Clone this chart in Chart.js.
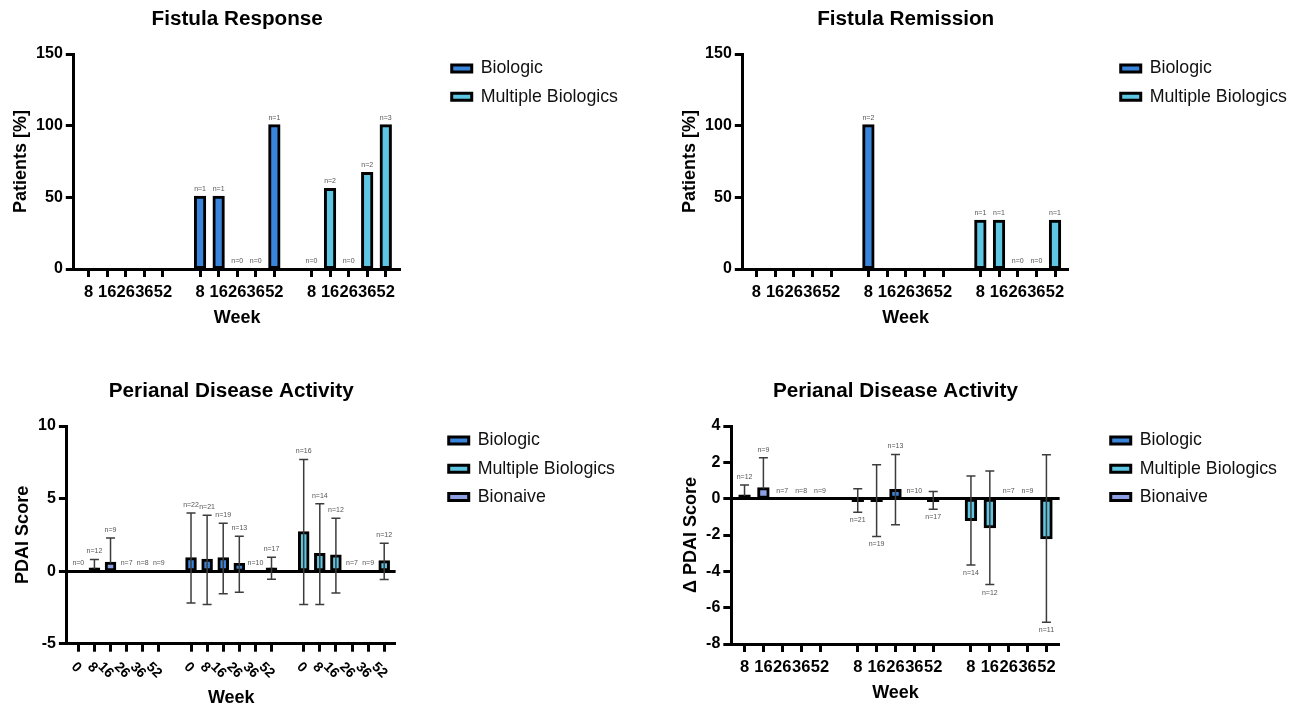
<!DOCTYPE html>
<html><head><meta charset="utf-8">
<script src="https://cdn.jsdelivr.net/npm/chart.js@4.4.1/dist/chart.umd.min.js"></script>
<style>
html,body{margin:0;padding:0;background:#fff;width:1309px;height:707px;overflow:hidden;position:relative;}
canvas{position:absolute;}
</style></head><body>
<canvas id="c1" width="628" height="340" style="left:0px;top:0px"></canvas>
<canvas id="c2" width="628" height="340" style="left:669px;top:0px"></canvas>
<canvas id="c3" width="623" height="337" style="left:2px;top:372px"></canvas>
<canvas id="c4" width="617" height="335" style="left:670px;top:372px"></canvas>
<script>
// ---------- data ----------
const weeks5 = ['8','16','26','36','52'];
const weeks6 = ['0','8','16','26','36','52'];
const labels5 = [...weeks5, '', ...weeks5, '', ...weeks5];
const labels6 = [...weeks6, '', ...weeks6, '', ...weeks6];

// Fistula Response (%), groups: [Bionaive, Biologic, Multiple Biologics]
const respBiologic = [50, 50, 0, 0, 100];
const respBiologicN = ['n=1','n=1','n=0','n=0','n=1'];
const respMultiple = [0, 55.5, 0, 66.7, 100];
const respMultipleN = ['n=0','n=2','n=0','n=2','n=3'];

// Fistula Remission (%)
const remBiologic = [100, null, null, null, null];
const remBiologicN = ['n=2', null, null, null, null];
const remMultiple = [33.3, 33.3, 0, 0, 33.3];
const remMultipleN = ['n=1','n=1','n=0','n=0','n=1'];

// PDAI score (mean, SD range)
const pdaiBionaive = [0, 0.15, 0.55, 0, 0, 0];
const pdaiBionaiveHi = [null, 0.8, 2.28, null, null, null];
const pdaiBionaiveLo = [null, null, null, null, null, null];
const pdaiBionaiveN = ['n=0','n=12','n=9','n=7','n=8','n=9'];
const pdaiBiologic = [0.85, 0.75, 0.85, 0.45, 0, 0.15];
const pdaiBiologicHi = [4.0, 3.85, 3.3, 2.4, null, 0.95];
const pdaiBiologicLo = [-2.2, -2.3, -1.55, -1.45, null, -0.55];
const pdaiBiologicN = ['n=22','n=21','n=19','n=13','n=10','n=17'];
const pdaiMultiple = [2.65, 1.15, 1.05, 0, 0, 0.65];
const pdaiMultipleHi = [7.7, 4.65, 3.65, null, null, 1.92];
const pdaiMultipleLo = [-2.3, -2.3, -1.5, null, null, -0.57];
const pdaiMultipleN = ['n=16','n=14','n=12','n=7','n=9','n=12'];

// Delta PDAI score
const dBionaive = [0.15, 0.55, 0, 0, 0];
const dBionaiveHi = [0.75, 2.25, null, null, null];
const dBionaiveLo = [null, null, null, null, null];
const dBionaiveN = ['n=12','n=9','n=7','n=8','n=9'];
const dBiologic = [-0.1, -0.1, 0.45, 0, -0.1];
const dBiologicHi = [0.55, 1.87, 2.43, null, 0.4];
const dBiologicLo = [-0.75, -2.08, -1.43, null, -0.58];
const dBiologicN = ['n=21','n=19','n=13','n=10','n=17'];
const dMultiple = [-1.15, -1.55, 0, 0, -2.15];
const dMultipleHi = [1.25, 1.52, null, null, 2.42];
const dMultipleLo = [-3.65, -4.73, null, null, -6.8];
const dMultipleN = ['n=14','n=12','n=7','n=9','n=11'];

// ---------- helpers ----------
const FONT = "Arial, 'Liberation Sans', sans-serif";
Chart.defaults.font.family = FONT;
Chart.defaults.color = '#000';
const COL = {biologic: '#3a85dc', multiple: '#5ec6e2', bionaive: '#8c9fe2'};

function slots(groupSize, gIndex, values) {
  const out = new Array(groupSize * 3 + 2).fill(null);
  if (values) values.forEach((v, i) => { out[gIndex * (groupSize + 1) + i] = v; });
  return out;
}

const annot = {
  id: 'annot',
  afterDatasetsDraw(chart) {
    const ctx = chart.ctx, ys = chart.scales.y;
    chart.data.datasets.forEach((ds, di) => {
      const meta = chart.getDatasetMeta(di);
      meta.data.forEach((bar, i) => {
        const v = ds.data[i];
        if (v === null || v === undefined) return;
        const hi = ds.errHi ? ds.errHi[i] : null;
        const lo = ds.errLo ? ds.errLo[i] : null;
        const x = bar.x;
        ctx.save();
        if (hi != null || lo != null) {
          const top = ys.getPixelForValue(hi != null ? hi : v);
          const bot = ys.getPixelForValue(lo != null ? lo : v);
          ctx.strokeStyle = '#3c3c3c'; ctx.lineWidth = 1.5;
          ctx.beginPath();
          ctx.moveTo(x, top); ctx.lineTo(x, bot);
          if (hi != null) { ctx.moveTo(x - 4.5, top); ctx.lineTo(x + 4.5, top); }
          if (lo != null) { ctx.moveTo(x - 4.5, bot); ctx.lineTo(x + 4.5, bot); }
          ctx.stroke();
        }
        const n = ds.nLabels ? ds.nLabels[i] : null;
        if (n) {
          ctx.fillStyle = '#555'; ctx.font = '7px ' + FONT;
          ctx.textAlign = 'center'; ctx.textBaseline = 'middle';
          if (v < 0) {
            const b = ys.getPixelForValue(lo != null ? lo : v);
            ctx.fillText(n, x, b + 8);
          } else {
            const t = ys.getPixelForValue(hi != null ? hi : v);
            ctx.fillText(n, x, t - 8);
          }
        }
        ctx.restore();
      });
    });
  }
};

// x tick labels turned 45 degrees clockwise (drawn at the category scale's tick pixels)
function rotLabelsPlugin(on) {
  return {
    id: 'rotLabels',
    afterDraw(chart) {
      if (!on) return;
      const s = chart.scales.x, ctx = chart.ctx, labs = s.getLabels();
      ctx.save();
      ctx.font = 'bold 14px ' + FONT; ctx.fillStyle = '#000';
      ctx.textAlign = 'center'; ctx.textBaseline = 'middle';
      s.ticks.forEach((t, i) => {
        const L = labs[t.value];
        if (!L) return;
        const w = ctx.measureText(L).width, h = 10;
        const box = 0.7071 * (w + h);
        const cx = s.getPixelForTick(i) + 4.3 - box / 2;
        const cy = s.top + 17.5 + box / 2;
        ctx.save();
        ctx.translate(cx, cy); ctx.rotate(Math.PI / 4);
        ctx.fillText(L, 0, 0);
        ctx.restore();
      });
      ctx.restore();
    }
  };
}

function ds(label, color, data, n, hi, lo, bp) {
  return {label, data, nLabels: n, errHi: hi, errLo: lo, baseColor: color,
    backgroundColor: c => (c.raw && Math.abs(c.raw) < 0.2 ? '#000' : color),
    borderColor: '#000', borderWidth: 3, borderSkipped: false,
    inflateAmount: c => (c.raw ? 1.5 : 0),
    skipNull: true, categoryPercentage: 1, barPercentage: bp, yAxisID: 'y', xAxisID: 'x'};
}

function legendLabels(chart) {
  return Chart.defaults.plugins.legend.labels.generateLabels(chart).map((l, i) =>
    Object.assign(l, {fillStyle: chart.data.datasets[i].baseColor, strokeStyle: '#000', lineWidth: 3}));
}

function makeChart(id, c) {
  const labels = c.labels;
  return new Chart(document.getElementById(id), {
    type: 'bar',
    data: {labels, datasets: c.datasets},
    plugins: [annot, rotLabelsPlugin(!!c.rot)],
    options: {
      responsive: false, animation: false,
      layout: {padding: {left: 2, right: 0, top: 0, bottom: c.lb}},
      plugins: {
        tooltip: {enabled: false},
        title: {display: true, text: c.title, fullSize: false, color: '#000',
          font: {size: 20.7, weight: 'bold'}, padding: {top: 7, bottom: 22.2}},
        legend: {position: 'right', align: 'start', fullSize: true, maxWidth: 260,
          title: {display: true, text: '', font: {size: 10}, padding: {top: 37, bottom: 0}},
          labels: {font: {size: 17.8}, color: '#111', boxWidth: 20, boxHeight: 7, padding: 10.5,
            generateLabels: legendLabels}}
      },
      scales: {
        x: {
          type: 'category', offset: false,
          grid: {display: true, offset: false, drawOnChartArea: false, drawTicks: true,
            tickLength: 8, tickWidth: 3,
            tickColor: t => (labels[t.index] === '' ? 'rgba(0,0,0,0)' : '#000')},
          border: {display: true, color: '#000', width: 3},
          ticks: {autoSkip: false, minRotation: c.rot, maxRotation: c.rot,
            color: c.rot ? 'rgba(0,0,0,0)' : '#000',
            padding: 6, font: {size: c.rot ? 14 : 16.5, weight: 'bold'}},
          title: {display: true, text: 'Week', color: '#000', font: {size: 18, weight: 'bold'},
            padding: {top: c.rot ? 0.2 : -2, bottom: 0}},
          afterBuildTicks: s => { s._startValue -= c.pad; s._valueRange += 2 * c.pad; }
        },
        y: {
          min: c.yMin, max: c.yMax,
          ticks: {stepSize: c.yStep, color: '#000', padding: 3, font: {size: 16, weight: 'bold'}},
          grid: {drawOnChartArea: true, lineWidth: 3, tickWidth: 3, tickLength: 8, tickColor: '#000',
            color: t => (t.tick && t.tick.value === 0 ? '#000' : 'rgba(0,0,0,0)')},
          border: {display: true, color: '#000', width: 3},
          title: {display: true, text: c.yTitle, color: '#000', font: {size: 18, weight: 'bold'},
            padding: {top: 8, bottom: 1.5}}
        },
        gap: {type: 'linear', position: 'right', display: true,
          grid: {display: false}, border: {display: false}, ticks: {display: false},
          afterFit: s => { s.width = c.gap; }}
      }
    }
  });
}

makeChart('c1', {
  labels: labels5, title: 'Fistula Response', yTitle: 'Patients [%]',
  yMin: 0, yMax: 150, yStep: 50, rot: 0, pad: 0.8, gap: 40.6, lb: 11.6,
  datasets: [
    ds('Biologic', COL.biologic, slots(5, 1, respBiologic), slots(5, 1, respBiologicN), null, null, 0.5),
    ds('Multiple Biologics', COL.multiple, slots(5, 2, respMultiple), slots(5, 2, respMultipleN), null, null, 0.5)
  ]
});
makeChart('c2', {
  labels: labels5, title: 'Fistula Remission', yTitle: 'Patients [%]',
  yMin: 0, yMax: 150, yStep: 50, rot: 0, pad: 0.73, gap: 41.6, lb: 11.6,
  datasets: [
    ds('Biologic', COL.biologic, slots(5, 1, remBiologic), slots(5, 1, remBiologicN), null, null, 0.5),
    ds('Multiple Biologics', COL.multiple, slots(5, 2, remMultiple), slots(5, 2, remMultipleN), null, null, 0.5)
  ]
});
makeChart('c3', {
  labels: labels6, title: 'Perianal Disease Activity', yTitle: 'PDAI Score',
  yMin: -5, yMax: 10, yStep: 5, rot: 45, pad: 0.71, gap: 42.6, lb: 0.6,
  datasets: [
    ds('Biologic', COL.biologic, slots(6, 1, pdaiBiologic), slots(6, 1, pdaiBiologicN), slots(6, 1, pdaiBiologicHi), slots(6, 1, pdaiBiologicLo), 0.53),
    ds('Multiple Biologics', COL.multiple, slots(6, 2, pdaiMultiple), slots(6, 2, pdaiMultipleN), slots(6, 2, pdaiMultipleHi), slots(6, 2, pdaiMultipleLo), 0.53),
    ds('Bionaive', COL.bionaive, slots(6, 0, pdaiBionaive), slots(6, 0, pdaiBionaiveN), slots(6, 0, pdaiBionaiveHi), slots(6, 0, pdaiBionaiveLo), 0.53)
  ]
});
makeChart('c4', {
  labels: labels5, title: 'Perianal Disease Activity', yTitle: '\u0394 PDAI Score',
  yMin: -8, yMax: 4, yStep: 2, rot: 0, pad: 0.7, gap: 40.6, lb: 3.6,
  datasets: [
    ds('Biologic', COL.biologic, slots(5, 1, dBiologic), slots(5, 1, dBiologicN), slots(5, 1, dBiologicHi), slots(5, 1, dBiologicLo), 0.5),
    ds('Multiple Biologics', COL.multiple, slots(5, 2, dMultiple), slots(5, 2, dMultipleN), slots(5, 2, dMultipleHi), slots(5, 2, dMultipleLo), 0.5),
    ds('Bionaive', COL.bionaive, slots(5, 0, dBionaive), slots(5, 0, dBionaiveN), slots(5, 0, dBionaiveHi), slots(5, 0, dBionaiveLo), 0.5)
  ]
});
</script>
</body></html>
